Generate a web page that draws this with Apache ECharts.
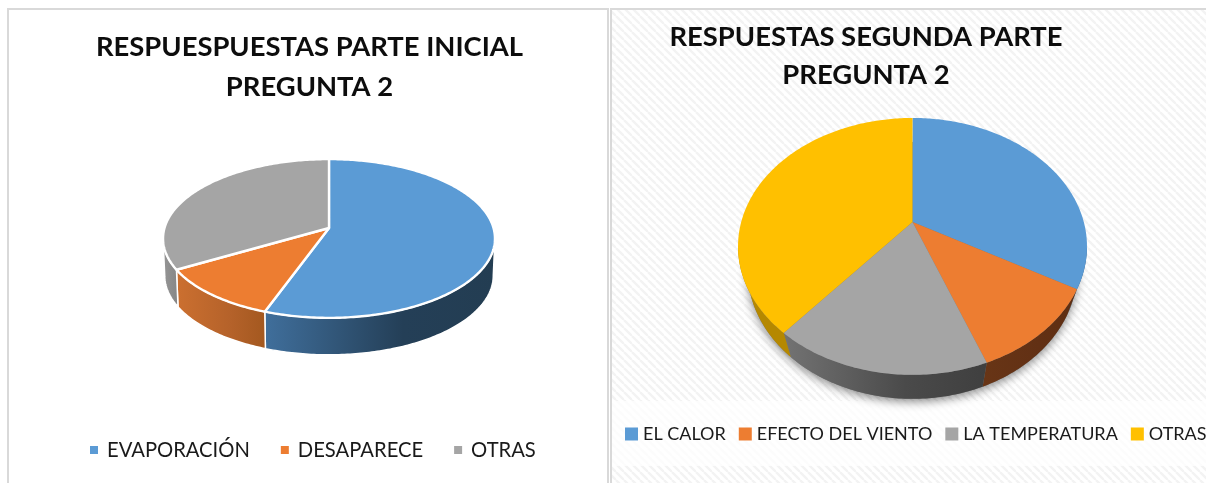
<!DOCTYPE html>
<html>
<head>
<meta charset="utf-8">
<style>html,body{margin:0;padding:0;background:#fff;overflow:hidden}#c{width:1206px;height:483px}</style>
<script src="https://cdn.jsdelivr.net/npm/echarts@6/dist/echarts.min.js"></script>
</head>
<body>
<div id="c"></div>
<script>
const titleLeft = 'RESPUESPUESTAS PARTE INICIAL\nPREGUNTA 2';
const titleRight = 'RESPUESTAS SEGUNDA PARTE\nPREGUNTA 2';
const categoriesLeft = ['EVAPORACIÓN', 'DESAPARECE', 'OTRAS'];
const valuesLeft = [50, 10, 30];
const categoriesRight = ['EL CALOR', 'EFECTO DEL VIENTO', 'LA TEMPERATURA', 'OTRAS'];
const valuesRight = [33.2, 11.0, 16.9, 38.9];

const FONT = 'Lato, "Open Sans", sans-serif';
const geomLeft = {cx: 329, cy: 228, A: 164.5, B: 78, k: 0.132, depth: 37, sx: 0.99};
const geomRight = {cx: 912.5, cy: 222, A: 171.3, B: 123.8, k: 0.19, depth: 24, sx: 0.945};
const topLeft = ['#5b9bd5', '#ed7d31', '#a5a5a5'];
const wallLeft = [['#406f9c', '#243f57', '#233d52'], ['#cc7030', '#b5622a', '#a3581f'], ['#969696', '#8c8c8c', '#858585']];
const topRight = ['#5b9bd5', '#ed7d31', '#a5a5a5', '#ffc000'];
const wallRight = [['#2f5a85', '#2f5a85', '#2f5a85'], ['#683516', '#623014', '#5e2e12'], ['#737373', '#4a4a4a', '#3f3f3f'], ['#b58800', '#b58800', '#b58800']];

function project(g, t, shift) {
  const d = 1 + g.k * Math.cos(t);
  const X = g.A * Math.sin(t) / d, Y = g.B * Math.cos(t) / d;
  return shift ? [g.cx + X * g.sx, g.cy - Y + g.depth] : [g.cx + X, g.cy - Y];
}
function arc(g, a, b, shift) {
  const n = Math.max(2, Math.ceil(Math.abs(b - a) / 0.015)), pts = [];
  for (let i = 0; i <= n; i++) pts.push(project(g, a + (b - a) * i / n, shift));
  return pts;
}
function sliceSeries(name, start, end, g, top, wall, border) {
  return {
    type: 'custom', name, coordinateSystem: 'none', silent: true,
    itemStyle: {color: top}, data: [[start, end]],
    renderItem(params, api) {
      const a = api.value(0) * 2 * Math.PI, b = api.value(1) * 2 * Math.PI;
      const children = [];
      const lo = Math.acos(-g.k), hi = 2 * Math.PI - lo;
      const wa = Math.max(a, lo), wb = Math.min(b, hi);
      if (wb > wa) {
        const upper = arc(g, wa, wb, false), lower = arc(g, wa, wb, true).reverse();
        children.push({
          type: 'polygon', z2: 2, shape: {points: upper.concat(lower)},
          style: {
            fill: new echarts.graphic.LinearGradient(0, 0, 1, 0, [
              {offset: 0, color: wall[0]}, {offset: 0.6, color: wall[1]}, {offset: 1, color: wall[2]}]),
            stroke: border ? '#fff' : null, lineWidth: border ? 1.5 : 0
          }
        });
      }
      children.push({
        type: 'polygon', z2: 10, shape: {points: [[g.cx, g.cy]].concat(arc(g, a, b, false))},
        style: {fill: top, stroke: border ? '#fff' : null, lineWidth: border ? 2.4 : 0, lineJoin: 'round'}
      });
      return {type: 'group', children};
    }
  };
}
function pieSeries(cats, vals, g, tops, walls, border) {
  const total = vals.reduce((s, v) => s + v, 0);
  let c = 0;
  return cats.map((n, i) => {
    const s = sliceSeries(n, c / total, (c + vals[i]) / total, g, tops[i], walls[i], border);
    c += vals[i];
    return s;
  });
}
const shadowRight = {
  type: 'custom', name: 'sombra', coordinateSystem: 'none', silent: true, data: [[0]],
  renderItem() {
    return {
      type: 'polygon', z2: 0,
      shape: {points: arc(geomRight, 0, 2 * Math.PI, true)},
      style: {fill: '#777', shadowBlur: 10, shadowColor: 'rgba(0,0,0,0.45)', shadowOffsetY: 3}
    };
  }
};

const tile = document.createElement('canvas');
tile.width = tile.height = 8;
(function () {
  const x = tile.getContext('2d');
  x.fillStyle = '#fff'; x.fillRect(0, 0, 8, 8);
  x.strokeStyle = '#f3f3f3'; x.lineWidth = 2.4;
  [[-8, 0], [0, 0], [8, 0]].forEach(p => {
    x.beginPath(); x.moveTo(p[0], 0); x.lineTo(p[0] + 8, 8); x.stroke();
  });
})();

const chart = echarts.init(document.getElementById('c'), null, {renderer: 'canvas'});
chart.setOption({
  animation: false,
  backgroundColor: '#fff',
  title: [
    {text: titleLeft, left: 309.5, top: 27, textAlign: 'center', padding: 0,
     textStyle: {fontFamily: FONT, fontWeight: 'bold', fontSize: 27.4, lineHeight: 40, color: '#0d0d0d'}},
    {text: titleRight, left: 866, top: 18, textAlign: 'center', padding: 0,
     textStyle: {fontFamily: FONT, fontWeight: 'bold', fontSize: 27.4, lineHeight: 38, color: '#0d0d0d'}}
  ],
  legend: [
    {data: categoriesLeft.map((name, i) => ({name, itemStyle: {color: topLeft[i]}})),
     left: 90, top: 440, width: 600, padding: 0, itemWidth: 8, itemHeight: 8, itemGap: 31,
     icon: 'rect', selectedMode: false,
     textStyle: {fontFamily: FONT, fontSize: 20.2, color: '#1a1a1a', padding: [0, 0, 0, 4]}},
    {data: categoriesRight.map((name, i) => ({name, itemStyle: {color: topRight[i]}})),
     left: 625, top: 425, width: 900, padding: 0, itemWidth: 13, itemHeight: 13, itemGap: 13,
     icon: 'rect', selectedMode: false,
     textStyle: {fontFamily: FONT, fontSize: 18, color: '#1a1a1a', padding: [0, 0, 0, 0]}}
  ],
  graphic: [
    {type: 'rect', z: -5, silent: true, shape: {x: 611, y: 9, width: 595, height: 474}, style: {fill: {image: tile, repeat: 'repeat'}}},
    {type: 'rect', z: -4, silent: true, shape: {x: 612, y: 401, width: 594, height: 65}, style: {fill: 'rgba(255,255,255,0.7)'}},
    {type: 'rect', z: -3, silent: true, shape: {x: 7, y: 8, width: 601, height: 2}, style: {fill: '#d9d9d9'}},
    {type: 'rect', z: -3, silent: true, shape: {x: 610, y: 8, width: 596, height: 2}, style: {fill: '#d9d9d9'}},
    {type: 'rect', z: -3, silent: true, shape: {x: 7, y: 8, width: 2, height: 475}, style: {fill: '#d9d9d9'}},
    {type: 'rect', z: -3, silent: true, shape: {x: 607, y: 8, width: 2, height: 475}, style: {fill: '#d9d9d9'}},
    {type: 'rect', z: -3, silent: true, shape: {x: 610, y: 8, width: 2, height: 475}, style: {fill: '#d9d9d9'}}
  ],
  series: [shadowRight]
    .concat(pieSeries(categoriesLeft, valuesLeft, geomLeft, topLeft, wallLeft, true))
    .concat(pieSeries(categoriesRight, valuesRight, geomRight, topRight, wallRight, false))
});
</script>
</body>
</html>
